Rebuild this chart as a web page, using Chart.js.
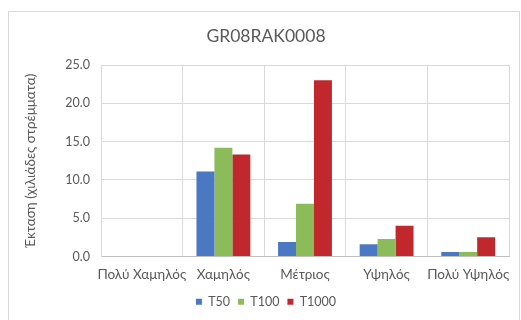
<!DOCTYPE html>
<html>
<head>
<meta charset="utf-8">
<script src="https://cdn.jsdelivr.net/npm/chart.js@4.4.0/dist/chart.umd.min.js"></script>
<style>
  html, body { margin: 0; padding: 0; background: #fff; }
  #wrap { width: 521px; height: 320px; position: relative; }
</style>
</head>
<body>
<div id="wrap"><canvas id="chart"></canvas></div>
<script>
// data
const categories = ['Πολύ Χαμηλός', 'Χαμηλός', 'Μέτριος', 'Υψηλός', 'Πολύ Υψηλός'];
const t50 = [0, 11.1, 1.9, 1.6, 0.6];
const t100 = [0, 14.2, 6.9, 2.3, 0.6];
const t1000 = [0, 13.3, 23.0, 4.0, 2.5];
const yTicks = [0, 5, 10, 15, 20, 25];

Chart.defaults.font.family = 'Lato, "Liberation Sans", sans-serif';
Chart.defaults.color = '#595959';

// light frame around the whole chart, like the Excel chart area
const frame = {
  id: 'frame',
  beforeDraw(chart) {
    const ctx = chart.ctx;
    ctx.save();
    ctx.fillStyle = '#fff';
    ctx.fillRect(0, 0, chart.width, chart.height);
    ctx.strokeStyle = '#d9d9d9';
    ctx.lineWidth = 1;
    ctx.strokeRect(8.5, 11.5, 511, 400);
    ctx.restore();
  }
};

new Chart(document.getElementById('chart'), {
  type: 'bar',
  data: {
    labels: categories,
    datasets: [
      { label: 'T50', data: t50, backgroundColor: '#4a78c2' },
      { label: 'T100', data: t100, backgroundColor: '#8cbb5a' },
      { label: 'T1000', data: t1000, backgroundColor: '#c0282e' }
    ]
  },
  options: {
    responsive: true,
    maintainAspectRatio: false,
    animation: false,
    categoryPercentage: 0.66,
    barPercentage: 1,
    layout: { padding: { left: 23, right: 12, top: 0, bottom: 2 } },
    plugins: {
      title: {
        display: true,
        text: 'GR08RAK0008',
        color: '#595959',
        font: { size: 17.5, weight: 'normal' },
        padding: { top: 26, bottom: 18 }
      },
      legend: {
        position: 'bottom',
        labels: { boxWidth: 6, boxHeight: 6, padding: 8, font: { size: 12.5 }, color: '#595959' }
      },
      tooltip: { enabled: false }
    },
    scales: {
      x: {
        grid: { color: '#d9d9d9', drawTicks: false },
        border: { color: '#bfbfbf' },
        ticks: { padding: 10, font: { size: 13.5 }, maxRotation: 0, autoSkip: false },
        afterFit: s => { s.height = 31; }
      },
      y: {
        min: 0,
        max: 25,
        grid: { color: '#d9d9d9', drawTicks: false },
        border: { color: '#d9d9d9' },
        afterBuildTicks: s => { s.ticks = yTicks.map(v => ({ value: v })); },
        ticks: { padding: 11, font: { size: 12.5 }, callback: v => v.toFixed(1) },
        title: {
          display: true,
          text: 'Έκταση (χιλιάδες στρέμματα)',
          font: { size: 13.5 },
          color: '#595959',
          padding: { top: 0, bottom: 0 }
        },
        afterFit: s => { s.width = 78; }
      }
    }
  },
  plugins: [frame]
});
</script>
</body>
</html>
